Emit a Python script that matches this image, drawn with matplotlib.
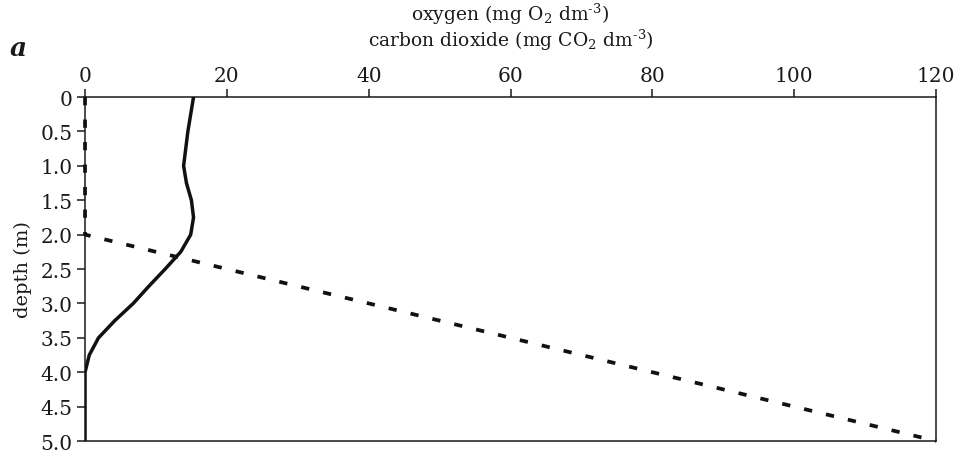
import matplotlib
matplotlib.use("Agg")
import matplotlib.pyplot as plt

depth = [0, 0.25, 0.5, 0.75, 1.0, 1.25, 1.5, 1.75, 2.0, 2.25, 2.5, 2.75, 3.0,
         3.25, 3.5, 3.75, 4.0, 4.25, 4.5, 4.75, 5.0]
oxygen = [15.3, 14.9, 14.5, 14.2, 13.9, 14.3, 15.0, 15.3, 14.9, 13.5, 11.3, 9.0,
          6.8, 4.2, 1.9, 0.6, 0.0, 0.0, 0.0, 0.0, 0.0]
co2_depth = [0, 0.5, 1.0, 1.5, 2.0, 2.5, 3.0, 3.5, 4.0, 4.5, 5.0]
co2 = [0, 0, 0, 0, 0, 20, 40, 60, 80, 100, 120]
xticks = [0, 20, 40, 60, 80, 100, 120]
yticks = [0, 0.5, 1.0, 1.5, 2.0, 2.5, 3.0, 3.5, 4.0, 4.5, 5.0]
ytick_labels = ["0", "0.5", "1.0", "1.5", "2.0", "2.5", "3.0", "3.5", "4.0", "4.5", "5.0"]

plt.rcParams["font.family"] = ["DejaVu Serif"]
plt.rcParams["mathtext.fontset"] = "dejavuserif"

fig = plt.figure(figsize=(9.63, 4.56), dpi=100)
ax = fig.add_axes([0.0883, 0.0307, 0.8837, 0.7543])

ax.plot(oxygen, depth, color="#111111", lw=2.5, solid_joinstyle="round", zorder=3)
ax.plot(co2, co2_depth, color="#111111", lw=2.7, dashes=(2.2, 3.8),
        dash_capstyle="butt", zorder=3, clip_on=False)

ax.set_xlim(0, 120)
ax.set_ylim(5.0, 0)
ax.xaxis.tick_top()
ax.set_xticks(xticks)
ax.set_yticks(yticks)
ax.set_yticklabels(ytick_labels)
ax.tick_params(axis="both", direction="out", length=6, width=1.1,
               labelsize=14.5, colors="#1a1a1a", pad=3)
for s in ax.spines.values():
    s.set_linewidth(1.1)
    s.set_color("#1a1a1a")

ax.set_ylabel("depth (m)", fontsize=14, color="#1a1a1a", labelpad=6)

cx = 0.0883 + 0.8837 / 2
fig.text(cx, 1 - 14 / 456, r"oxygen (mg O$_2$ dm$^{\text{-3}}$)", ha="center", va="center",
         fontsize=13.5, color="#1a1a1a")
fig.text(cx, 1 - 40 / 456, r"carbon dioxide (mg CO$_2$ dm$^{\text{-3}}$)", ha="center",
         va="center", fontsize=13.5, color="#1a1a1a")
fig.text(10 / 963, 1 - 48 / 456, "a", fontsize=19, fontweight="bold", fontstyle="italic",
         ha="left", va="center", color="#1a1a1a")

fig.savefig("out.png", dpi=100)
